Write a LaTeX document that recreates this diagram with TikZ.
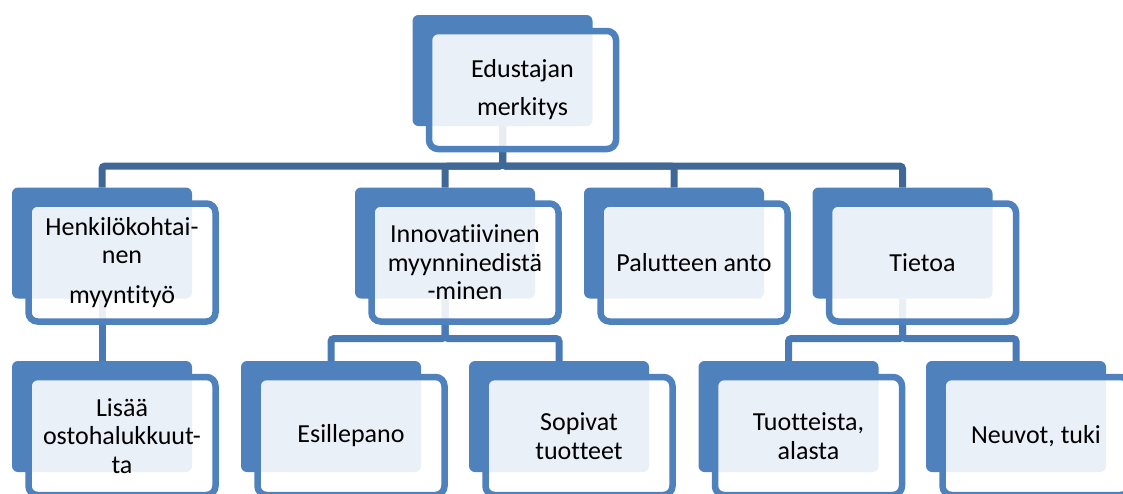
\documentclass[tikz,border=0pt]{standalone}
\usepackage{fontspec}
\setmainfont{Carlito}[Ligatures={NoCommon,NoContextual}]
\usetikzlibrary{calc}
\definecolor{accent}{HTML}{4F81BD}
\definecolor{busdark}{HTML}{3F6896}
\definecolor{bussub}{HTML}{4A7AB5}
\pgfdeclarelayer{bg}
\pgfsetlayers{bg,main}
\newcommand\elem[4]{%
  \node[back] (#1b) at (#2,#3) {};
  \node[frame] (#1f) at ($(#1b)+(20,19.5)$) {};
  \node[lbl] (#1) at (#1f) {#4};
}
\begin{document}
\begin{tikzpicture}[x=1pt,y=-1pt,
  back/.style={fill=accent, rounded corners=6pt, minimum width=180pt, minimum height=111pt, inner sep=0pt, outer sep=0pt},
  frame/.style={draw=accent, line width=6.5pt, fill=white, fill opacity=0.885, rounded corners=9pt, minimum width=187pt, minimum height=118pt, inner sep=0pt, outer sep=0pt},
  lbl/.style={font=\fontsize{26}{28.5}\selectfont, align=center, text=black, inner sep=0pt},
  bus/.style={draw=busdark, line width=7pt, rounded corners=3pt},
  subbus/.style={draw=bussub, line width=7pt, rounded corners=3pt}]
\useasboundingbox (0,0) rectangle (1123,493);
\clip (0,0) rectangle (1123,493);
\elem{root}{502.5}{70.5}{Edustajan\\[9.5pt]merkitys}
\elem{henk}{102}{243}{Henkilökohtai-\\nen\\[11pt]myyntityö}
\elem{innov}{445}{243}{Innovatiivinen\\myynninedistä\\-minen}
\elem{pal}{674}{243}{Palutteen anto}
\elem{tieto}{902.5}{243}{Tietoa}
\elem{lisa}{102}{416.5}{Lisää\\ostohalukkuut-\\ta}
\elem{esil}{331}{416.5}{Esillepano}
\elem{sop}{559}{416.5}{Sopivat\\tuotteet}
\elem{tuot}{788.5}{416.5}{Tuotteista,\\alasta}
\elem{neuv}{1016}{416.5}{Neuvot, tuki}
\begin{pgfonlayer}{bg}
  \draw[bus] (rootb.south) -- ++(0,40) -| (henkb.north);
  \draw[bus] (rootb.south) -- ++(0,40) -| (innovb.north);
  \draw[bus] (rootb.south) -- ++(0,40) -| (palb.north);
  \draw[bus] (rootb.south) -- ++(0,40) -| (tietob.north);
  \draw[subbus] (henkb.south) -- (lisab.north);
  \draw[subbus] (innovb.south) -- ++(0,40) -| (esilb.north);
  \draw[subbus] (innovb.south) -- ++(0,40) -| (sopb.north);
  \draw[subbus] (tietob.south) -- ++(0,40) -| (tuotb.north);
  \draw[subbus] (tietob.south) -- ++(0,40) -| (neuvb.north);
\end{pgfonlayer}
\end{tikzpicture}
\end{document}
